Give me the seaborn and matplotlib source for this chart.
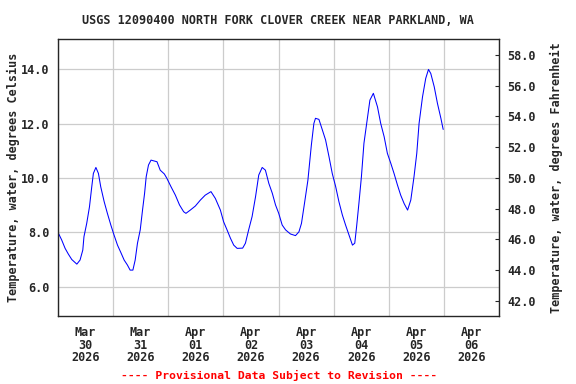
import pandas as pd
import numpy as np
import matplotlib
matplotlib.use('Agg')
import matplotlib.pyplot as plt
import matplotlib.dates as mdates
import seaborn as sns

## hours since 2026-03-30 00:00 and water temperature (deg C)
hours = [0.0, 1.6, 3.1, 4.5, 6.0, 8.2, 9.6, 10.8, 11.3, 12.5, 13.7, 14.7, 15.4, 16.5,
         17.6, 18.6, 20.1, 21.5, 23.0, 24.4, 25.9, 27.4, 28.8, 30.2, 31.4, 32.6, 33.6,
         34.6, 35.8, 36.8, 37.7, 38.4, 39.4, 40.5, 43.1, 44.5, 46.3, 47.4, 49.2, 51.1,
         52.9, 54.7, 55.7, 57.6, 59.8, 62.0, 64.1, 66.6, 68.5, 70.7, 72.1, 73.6, 75.1,
         76.5, 78.0, 80.4, 81.6, 83.0, 84.5, 86.0, 87.4, 88.9, 90.3, 91.8, 93.3, 94.7,
         96.1, 97.6, 99.1, 101.2, 103.4, 104.9, 106.0, 107.3, 108.8, 110.3, 111.4, 112.1,
         113.6, 115.1, 116.5, 118.0, 119.4, 120.9, 122.3, 123.8, 125.2, 126.7, 128.2,
         129.2, 130.0, 131.0, 132.1, 133.2, 134.7, 135.8, 137.3, 139.1, 140.5, 142.0,
         143.4, 144.9, 146.3, 147.8, 149.2, 150.7, 152.2, 153.6, 155.0, 156.2, 157.2,
         158.7, 160.1, 161.3, 162.3, 163.8, 165.2, 166.7, 167.7]
temp_c = [8.0, 7.72, 7.41, 7.2, 7.0, 6.83, 6.98, 7.35, 7.84, 8.33, 8.94, 9.68, 10.17, 10.39,
          10.17, 9.68, 9.13, 8.70, 8.27, 7.9, 7.53, 7.25, 6.98, 6.8, 6.61, 6.61, 6.98,
          7.6, 8.09, 8.82, 9.44, 10.05, 10.48, 10.66, 10.6, 10.29, 10.15, 9.99, 9.68, 9.37,
          9.01, 8.76, 8.70, 8.82, 8.97, 9.19, 9.37, 9.5, 9.25, 8.82, 8.39, 8.09, 7.78,
          7.53, 7.41, 7.42, 7.6, 8.09, 8.58, 9.31, 10.11, 10.39, 10.29, 9.80, 9.44, 9.01,
          8.70, 8.27, 8.09, 7.94, 7.88, 8.02, 8.33, 9.06, 9.92, 11.21, 12.01, 12.2,
          12.16, 11.77, 11.4, 10.78, 10.17, 9.68, 9.13, 8.64, 8.27, 7.9, 7.53,
          7.6, 8.21, 9.06, 10.05, 11.28, 12.2, 12.87, 13.12, 12.62, 12.01, 11.52,
          10.91, 10.54, 10.17, 9.74, 9.37, 9.06, 8.82, 9.19, 10.05, 10.91, 12.01,
          12.99, 13.67, 14.0, 13.85, 13.36, 12.75, 12.2, 11.79]

start = pd.Timestamp('2026-03-30')
df = pd.DataFrame({'time': start + pd.to_timedelta(hours, unit='h'), 'temp': temp_c})

celsius_ticks = [6, 8, 10, 12, 14]
fahrenheit_ticks = [42, 44, 46, 48, 50, 52, 54, 56, 58]

sns.set_style('white')
plt.rcParams['font.family'] = ['DejaVu Sans Mono']
plt.rcParams['font.weight'] = 'bold'
fs = 8.5

fig = plt.figure(figsize=(5.76, 3.84), dpi=100)
ax = fig.add_axes([58/576, 1 - 316/384, 441/576, 277/384])

sns.lineplot(data=df, x='time', y='temp', ax=ax, color='#0000ff', linewidth=0.75)

ax.set_xlim(start, start + pd.Timedelta(days=8))
ax.set_ylim(4.92, 15.12)
ax.set_yticks(celsius_ticks)
ax.set_yticklabels(['%.1f' % t for t in celsius_ticks], fontsize=fs, fontweight='bold')

## day gridlines at midnight, labels at noon
ax.xaxis.set_major_locator(mdates.DayLocator())
ax.xaxis.set_major_formatter(plt.NullFormatter())
ax.xaxis.set_minor_locator(mdates.HourLocator(byhour=[12]))
ax.xaxis.set_minor_formatter(mdates.DateFormatter('%b\n%d\n%Y'))
ax.tick_params(axis='x', which='both', length=0, pad=7)
for lab in ax.get_xticklabels(minor=True):
    lab.set_fontsize(fs)
    lab.set_fontweight('bold')
    lab.set_linespacing(0.98)
ax.tick_params(axis='y', length=0, pad=6)

ax.grid(True, which='major', color='#cccccc', linewidth=0.9)
for s in ax.spines.values():
    s.set_color('black')
    s.set_linewidth(0.9)

ax.set_xlabel('')
ax.set_ylabel('Temperature, water, degrees Celsius', fontsize=fs, fontweight='bold', labelpad=1)

ax2 = ax.twinx()
ax2.set_ylim(41.0, 59.05)
ax2.set_yticks(fahrenheit_ticks)
ax2.set_yticklabels(['%.1f' % t for t in fahrenheit_ticks], fontsize=fs, fontweight='bold')
ax2.tick_params(axis='y', direction='in', length=3, width=0.8, pad=6)
ax2.set_ylabel('Temperature, water, degrees Fahrenheit', fontsize=fs, fontweight='bold', labelpad=10)
ax2.grid(False)

fig.text(0.483, 1 - 20/384, 'USGS 12090400 NORTH FORK CLOVER CREEK NEAR PARKLAND, WA',
         ha='center', va='center', fontsize=fs, fontweight='bold')
fig.text(0.484, 1 - 375/384, '---- Provisional Data Subject to Revision ----',
         ha='center', va='center', fontsize=fs - 0.3, fontweight='bold', color='red')

fig.savefig('out.png', dpi=100)
